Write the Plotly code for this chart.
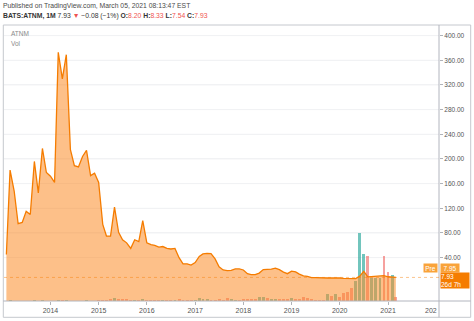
import plotly.graph_objects as go
import pandas as pd

# ---------------- data (monthly, ATNM on BATS) ----------------
start_month = "2013-02-01"
close = [45, 182, 148, 95, 97, 115, 110, 196, 145, 217,
         178, 172, 162, 373, 330, 369, 215, 189, 187, 204,
         214, 173, 177, 162, 94, 75, 75, 122, 81, 69,
         64, 55, 69, 66, 100, 64, 61, 60, 57, 58,
         55, 54, 55, 40, 30, 30, 28, 32, 42, 46,
         47, 46.5, 38, 25, 20, 19, 19.5, 21.7, 21.7, 20,
         14, 12.5, 12.5, 15, 20.6, 20.6, 21.4, 23, 20.6, 16.5,
         14, 18, 17, 13.3, 10.4, 9.7, 7.5, 7.5, 7, 7,
         7, 7, 7.5, 7, 6.5, 6, 5.5, 6, 10, 17.8,
         8.8, 9.5, 10, 11.2, 10.8, 9.0, 8.01, 7.93]

volume_m = [0.2, 0.3, 0.2, 0.2, 0.2, 0.2, 0.2, 0.3, 0.2, 0.3,
            0.2, 0.2, 0.2, 0.5, 0.4, 0.3, 0.2, 0.2, 0.2, 0.2,
            0.3, 0.2, 0.2, 0.3, 0.6, 0.7, 1.0, 1.5, 1.2, 0.9,
            0.8, 0.6, 0.7, 0.6, 1.1, 0.7, 0.5, 0.5, 0.4, 0.5,
            0.4, 0.4, 0.5, 1.0, 0.6, 0.5, 0.5, 0.6, 1.5, 1.0,
            0.8, 0.7, 0.6, 0.9, 0.7, 1.4, 0.8, 0.7, 0.6, 0.8,
            0.8, 0.9, 1.2, 2.2, 1.8, 1.3, 1.1, 1.0, 0.9, 0.8,
            1.0, 1.3, 1.0, 0.9, 2.15, 1.35, 1.0, 0.5, 0.5, 0.5,
            3.5, 2.5, 3.5, 1.85, 3.85, 4.65, 6.35, 10, 34.15, 23.35,
            22.65, 11.35, 11.35, 11.35, 22.65, 14.35, 13, 1.85]

volume_dir = ("u u d d u u d u d u  d d d u d u d d d u  "
              "u d u d d d d u d d  d d u d u d d d d u  "
              "d d u d d d d u u u  u d d d d d u u d d  "
              "d d d u u d u u d d  d u d d d d d d d d  "
              "u d u d d d d u u u  d u u u d d u d").split()

year_ticks = [2014, 2015, 2016, 2017, 2018, 2019, 2020, 2021]
price_ticks = [40, 80, 120, 160, 200, 240, 280, 320, 360, 400]
pre_price = 7.95
time_left = "26d 7h"

# ---------------- layout geometry ----------------
W, H = 474, 321
L, R, T, B = 4, 35, 25, 20
PW, PH = W - L - R, H - T - B


def px(x):
    return (x - L) / PW


def py(y):
    return (H - B - y) / PH


y_range = [-30.3, 417.2]
vol_range = [0, 138]
x_range = ["2013-01-14", "2022-01-22"]

dates = pd.date_range(start_month, periods=len(close), freq="MS")
up_col = "rgba(38,166,154,0.65)"
dn_col = "rgba(239,83,80,0.55)"
bar_colors = [up_col if d == "u" else dn_col for d in volume_dir]

orange = "#F57C00"
font_fam = "Liberation Sans, Arial, sans-serif"

fig = go.Figure()
# volume on the base axis (drawn underneath the price area)
fig.add_trace(go.Bar(x=dates, y=volume_m, yaxis="y", marker_color=bar_colors,
                     marker_line_width=0, width=22 * 86400000,
                     showlegend=False, name="Vol"))
# baseline so the area fills down to the bottom of the pane
fig.add_trace(go.Scatter(x=dates, y=[y_range[0]] * len(close), yaxis="y2",
                         mode="lines",
                         line=dict(width=0, color="rgba(0,0,0,0)"),
                         showlegend=False, hoverinfo="skip"))
fig.add_trace(go.Scatter(x=dates, y=close, yaxis="y2", mode="lines",
                         fill="tonexty",
                         fillcolor="rgba(252,140,40,0.55)",
                         line=dict(color=orange, width=1.3),
                         showlegend=False, name="ATNM"))

fig.update_layout(
    width=W, height=H,
    margin=dict(l=L, r=R, t=T, b=B, pad=0),
    paper_bgcolor="white", plot_bgcolor="white",
    font=dict(family=font_fam, size=7, color="#555"),
    bargap=0,
    xaxis=dict(type="date", range=x_range,
               tickvals=[f"{y}-01-01" for y in year_ticks],
               ticktext=[str(y) for y in year_ticks],
               ticks="outside", ticklen=3, tickcolor="#b0b3b8",
               showgrid=False, zeroline=False, showline=False,
               tickfont=dict(size=7, color="#555")),
    yaxis=dict(range=vol_range, visible=False, showgrid=False),
    yaxis2=dict(range=y_range, side="right", overlaying="y",
                tickvals=price_ticks,
                ticktext=[f"{v:.2f}" for v in price_ticks],
                ticks="outside", ticklen=3, tickcolor="#b0b3b8",
                showgrid=True, gridcolor="#f1f2f4", gridwidth=1,
                zeroline=False, showline=False,
                tickfont=dict(size=6.5, color="#555")),
)

frame_col = "#c5c8ce"
shapes = [
    dict(type="line", xref="paper", yref="y2",
         x0=0, x1=1, y0=v, y1=v, layer="below",
         line=dict(color="#f1f2f4", width=1)) for v in price_ticks
] + [
    dict(type="rect", xref="paper", yref="paper",
         x0=px(3.3), x1=px(470.7), y0=py(317.3), y1=py(25),
         line=dict(color=frame_col, width=1)),
    dict(type="line", xref="paper", yref="paper",
         x0=px(439), x1=px(439), y0=py(317.3), y1=py(25),
         line=dict(color="#b2b5be", width=1)),
    dict(type="line", xref="paper", yref="paper",
         x0=px(3.3), x1=px(470.7), y0=py(301), y1=py(301),
         line=dict(color="#b2b5be", width=1)),
    dict(type="line", xref="paper", yref="y2",
         x0=0, x1=1, y0=close[-1], y1=close[-1],
         line=dict(color="rgba(245,124,0,0.45)", width=1, dash="dot")),
]
fig.update_layout(shapes=shapes)

red = "#ef5350"
last = close[-1]
prev = close[-2]
chg = last - prev
pct = chg / prev * 100
line2 = (f"<b>BATS:ATNM, 1M</b> {last:.2f} <span style='color:{red}'>▼</span> "
         f"−{abs(chg):.2f} (−{abs(pct):.0f}%) "
         f"<b>O:</b><span style='color:{red}'>8.20</span> "
         f"<b>H:</b><span style='color:{red}'>8.33</span> "
         f"<b>L:</b><span style='color:{red}'>7.54</span> "
         f"<b>C:</b><span style='color:{red}'>{last:.2f}</span>")

ann = [
    dict(text="Published on TradingView.com, March 05, 2021 08:13:47 EST",
         x=px(1), y=py(6), xanchor="left", yanchor="middle",
         font=dict(size=6.8, color="#4a4a4a")),
    dict(text=line2, x=px(1), y=py(16), xanchor="left", yanchor="middle",
         font=dict(size=6.8, color="#333")),
    dict(text="ATNM", x=px(9), y=py(33), xanchor="left", yanchor="middle",
         font=dict(size=6.5, color="#8a8a8a")),
    dict(text="Vol", x=px(9), y=py(43.5), xanchor="left", yanchor="middle",
         font=dict(size=6.5, color="#8a8a8a")),
    dict(text="202", x=px(439), y=py(310), xanchor="right", yanchor="middle",
         font=dict(size=7, color="#555")),
    dict(text="Pre", x=px(423), y=py(268), xanchor="left", yanchor="middle",
         width=13, height=8, bgcolor="#F9A33A", borderpad=0,
         font=dict(size=6.5, color="white")),
    dict(text=f"{pre_price:.2f}", x=px(439.5), y=py(268), xanchor="left",
         yanchor="middle", width=18, height=8, bgcolor="#F9A33A", borderpad=0,
         font=dict(size=6.5, color="white")),
    dict(text=f"{last:.2f}<br>{time_left}", x=px(439.5), y=py(280),
         xanchor="left", yanchor="middle", width=28, height=15,
         bgcolor=orange, borderpad=0, align="left",
         font=dict(size=6.5, color="white")),
]
for a in ann:
    a.setdefault("xref", "paper")
    a.setdefault("yref", "paper")
    a.setdefault("showarrow", False)
fig.update_layout(annotations=ann)

fig.write_html("out.html")
